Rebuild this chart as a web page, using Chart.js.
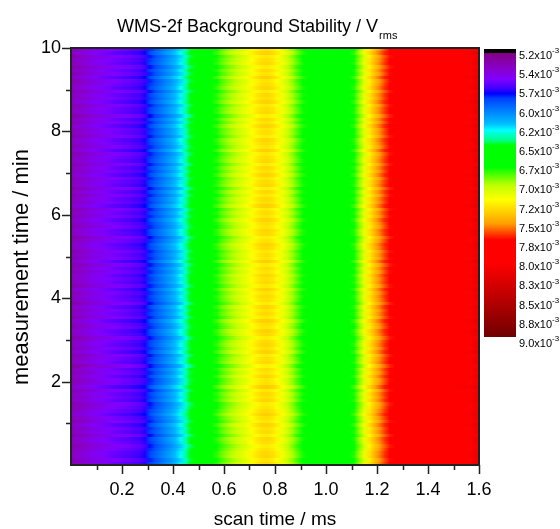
<!DOCTYPE html>
<html>
<head>
<meta charset="utf-8">
<title>WMS-2f Background Stability</title>
<script src="https://cdn.jsdelivr.net/npm/chart.js@4.4.1/dist/chart.umd.min.js"></script>
<style>
    body { margin: 0; background: #fff; }
    canvas { display: block; }
</style>
</head>
<body>
<canvas id="stability-chart" width="560" height="529"></canvas>
<script>

const FONT = '"Liberation Sans", Arial, Helvetica, sans-serif';

// mean 2f signal along one scan (x10^-3 V), one value per 0.02 ms bin
const scanProfile = [
    5.42, 5.45, 5.48, 5.51, 5.54, 5.56, 5.58, 5.60, 5.62, 5.63,
    5.65, 5.66, 5.68, 5.70, 5.74, 5.84, 5.91, 5.97, 6.03, 6.09,
    6.16, 6.24, 6.35, 6.47, 6.54, 6.58, 6.62, 6.67, 6.78, 6.86,
    6.92, 6.97, 7.02, 7.07, 7.13, 7.19, 7.25, 7.29, 7.30, 7.27,
    7.21, 7.13, 7.04, 6.95, 6.85, 6.76, 6.68, 6.62, 6.58, 6.56,
    6.55, 6.55, 6.57, 6.61, 6.67, 6.77, 6.93, 7.10, 7.26, 7.40,
    7.52, 7.63, 7.73, 7.82, 7.87, 7.90, 7.92, 7.93, 7.94, 7.95,
    7.95, 7.96, 7.96, 7.97, 7.97, 7.98, 7.99, 8.00, 8.04, 8.12
];
const scanStep = 0.02;     // ms per column
const scanEnd = 1.6;       // ms

// scan-to-scan background drift (x10^-3 V), one value per scan row, bottom to top
const rowDrift = [
     0.01, -0.02,  0.03,  0.02, -0.01, -0.04,  0.00,  0.02, -0.05,  0.01,
    -0.01,  0.04, -0.03,  0.00,  0.05,  0.01, -0.02, -0.04,  0.03,  0.00,
     0.02, -0.03,  0.06, -0.01, -0.02,  0.03, -0.02,  0.01, -0.06,  0.02,
     0.00, -0.04,  0.04, -0.01,  0.03,  0.01, -0.04,  0.02,  0.04, -0.02,
     0.00,  0.05, -0.03,  0.01, -0.01,  0.03, -0.05,  0.00,  0.02, -0.01,
     0.04, -0.03,  0.02,  0.00,  0.03, -0.02,  0.01, -0.04,  0.05, -0.02,
     0.00, -0.03,  0.02,  0.04, -0.01, -0.05,  0.02,  0.03, -0.02,  0.00,
     0.04, -0.02,  0.01, -0.03,  0.05,  0.00,  0.02, -0.03,  0.02, -0.05,
     0.03,  0.01, -0.02,  0.04, -0.01,  0.02, -0.04,  0.02,  0.00, -0.03,
     0.05, -0.02,  0.01,  0.03, -0.04,  0.00, -0.01,  0.04, -0.02,  0.02,
    -0.05,  0.02,  0.01, -0.03,  0.04,  0.00,  0.02, -0.04,  0.03,  0.00,
    -0.02,  0.05, -0.02,  0.01, -0.04,  0.02,  0.00, -0.03,  0.04, -0.01
];
const measureEnd = 10;     // min

// colour scale (x10^-3 V)
const colorbarLabels = ['5.2', '5.4', '5.7', '6.0', '6.2', '6.5', '6.7', '7.0',
                        '7.2', '7.5', '7.8', '8.0', '8.3', '8.5', '8.8', '9.0'];
const colorMin = 5.2;
const colorMax = 9.0;
const cmapValues = [5.20, 5.25, 5.25, 5.45, 5.60, 5.72, 5.79, 5.85, 6.19, 6.27,
                    6.41, 6.47, 6.76, 7.00, 7.19, 7.50, 7.72, 8.02, 9.00];
const cmapColors = ['#000000', '#000000', '#800080', '#8a00c8', '#8000ff', '#4000ff',
                    '#0000ff', '#0040ff', '#00c0ff', '#00ffff', '#00ff80', '#00ff00',
                    '#00ff00', '#c0ff00', '#ffff00', '#ffa000', '#ff0000', '#ff0000',
                    '#700000'];


function hexToRgb(hex) {
    const n = parseInt(hex.slice(1), 16);
    return [(n >> 16) & 255, (n >> 8) & 255, n & 255];
}

const cmapRgb = cmapColors.map(hexToRgb);

function colorFor(v) {
    if (v <= cmapValues[0]) return `rgb(${cmapRgb[0].join(',')})`;
    for (let i = 1; i < cmapValues.length; i++) {
        if (v <= cmapValues[i]) {
            const a = cmapValues[i - 1], b = cmapValues[i];
            const t = b > a ? (v - a) / (b - a) : 1;
            const c0 = cmapRgb[i - 1], c1 = cmapRgb[i];
            const rgb = c0.map((c, k) => Math.round(c + (c1[k] - c) * t));
            return `rgb(${rgb.join(',')})`;
        }
    }
    return `rgb(${cmapRgb[cmapRgb.length - 1].join(',')})`;
}


// one point per cell: centre of the bin plus its value
function buildCells() {
    const rowStep = measureEnd / rowDrift.length;
    const cells = [];
    rowDrift.forEach((drift, j) => {
        scanProfile.forEach((base, i) => {
            cells.push({
                x: (i + 0.5) * scanStep,
                y: (j + 0.5) * rowStep,
                v: base + drift,
                row: j
            });
        });
    });
    return cells;
}


// each scan row is filled with a gradient running through its bin centres
const heatmapPlugin = {
    id: 'heatmap',
    beforeDatasetsDraw(chart) {
        const { ctx, chartArea, scales } = chart;
        const { left, right, top, bottom } = chartArea;
        const rowStep = measureEnd / rowDrift.length;
        const cols = scanProfile.length;
        const data = chart.data.datasets[0].data;

        ctx.save();
        ctx.beginPath();
        ctx.rect(left, top, right - left, bottom - top);
        ctx.clip();
        for (let j = 0; j < rowDrift.length; j++) {
            const row = data.slice(j * cols, (j + 1) * cols);
            const y0 = Math.round(scales.y.getPixelForValue((j + 1) * rowStep));
            const y1 = Math.round(scales.y.getPixelForValue(j * rowStep));
            const grad = ctx.createLinearGradient(left, 0, right, 0);
            grad.addColorStop(0, colorFor(row[0].v));
            row.forEach(cell => {
                const off = (scales.x.getPixelForValue(cell.x) - left) / (right - left);
                grad.addColorStop(Math.min(1, Math.max(0, off)), colorFor(cell.v));
            });
            grad.addColorStop(1, colorFor(row[cols - 1].v));
            ctx.fillStyle = grad;
            ctx.fillRect(left, y0, right - left, y1 - y0);
        }
        ctx.restore();
    }
};


const decorPlugin = {
    id: 'decor',
    afterDraw(chart) {
        const { ctx, chartArea, scales } = chart;
        const { left, right, top, bottom } = chartArea;

        // frame
        ctx.save();
        ctx.strokeStyle = '#222';
        ctx.lineWidth = 2;
        ctx.strokeRect(left, top, right - left, bottom - top);

        // tick marks, long on labelled values
        ctx.lineWidth = 1.5;
        ctx.beginPath();
        scales.x.ticks.forEach(t => {
            const k = Math.round(t.value * 10);
            if (k === 0) return;
            const px = Math.round(scales.x.getPixelForValue(t.value)) + 0.5;
            const len = k % 2 === 0 ? 9 : 5;
            ctx.moveTo(px, bottom);
            ctx.lineTo(px, bottom + len);
        });
        scales.y.ticks.forEach(t => {
            const k = Math.round(t.value);
            if (k === 0) return;
            const py = Math.round(scales.y.getPixelForValue(t.value)) + 0.5;
            const len = k % 2 === 0 ? 9 : 5;
            ctx.moveTo(left, py);
            ctx.lineTo(left - len, py);
        });
        ctx.stroke();

        ctx.fillStyle = '#000';

        // title with subscript
        ctx.font = `18px ${FONT}`;
        ctx.textAlign = 'left';
        ctx.textBaseline = 'alphabetic';
        const titleMain = 'WMS-2f Background Stability / V';
        ctx.fillText(titleMain, 117, 32);
        const tw = ctx.measureText(titleMain).width;
        ctx.font = `11px ${FONT}`;
        ctx.fillText('rms', 117 + tw + 1, 39);

        // axis titles
        ctx.font = `19px ${FONT}`;
        ctx.textAlign = 'center';
        ctx.fillText('scan time / ms', (left + right) / 2, 525);
        ctx.save();
        ctx.translate(28, 267);
        ctx.rotate(-Math.PI / 2);
        ctx.font = `22px ${FONT}`;
        ctx.fillText('measurement time / min', 0, 0);
        ctx.restore();

        // colour bar
        const barX = 484, barW = 32, barTop = 49, barH = 288;
        for (let py = 0; py < barH; py++) {
            const v = colorMin + (py + 0.5) / barH * (colorMax - colorMin);
            ctx.fillStyle = colorFor(v);
            ctx.fillRect(barX, barTop + py, barW, 1);
        }
        ctx.fillStyle = '#000';
        ctx.textAlign = 'left';
        ctx.textBaseline = 'middle';
        colorbarLabels.forEach((label, k) => {
            const ly = barTop + k * barH / (colorbarLabels.length - 1) + 7;
            ctx.font = `11px ${FONT}`;
            const main = label + 'x10';
            ctx.fillText(main, 519, ly);
            const mw = ctx.measureText(main).width;
            ctx.font = `8px ${FONT}`;
            ctx.fillText('-3', 519 + mw, ly - 5);
        });
        ctx.restore();
    }
};


document.addEventListener('DOMContentLoaded', () => {
    const ctx = document.getElementById('stability-chart').getContext('2d');

    new Chart(ctx, {
        type: 'scatter',
        data: {
            datasets: [{
                data: buildCells(),
                pointRadius: 0,
                pointHoverRadius: 0
            }]
        },
        options: {
            responsive: false,
            animation: false,
            events: [],
            layout: { padding: { top: 48, right: 81, left: 0, bottom: 0 } },
            plugins: {
                legend: { display: false },
                tooltip: { enabled: false }
            },
            scales: {
                x: {
                    type: 'linear',
                    min: 0,
                    max: scanEnd,
                    afterFit(scale) { scale.height = 64; },
                    border: { display: false },
                    grid: { drawOnChartArea: false, tickLength: 9, tickColor: 'rgba(0,0,0,0)' },
                    ticks: {
                        stepSize: 0.1,
                        autoSkip: false,
                        maxRotation: 0,
                        padding: 5,
                        color: '#000',
                        font: { family: FONT, size: 18 },
                        callback: v => {
                            const k = Math.round(v * 10);
                            return k > 0 && k % 2 === 0 ? (k / 10).toFixed(1) : '';
                        }
                    }
                },
                y: {
                    type: 'linear',
                    min: 0,
                    max: measureEnd,
                    afterFit(scale) { scale.width = 71; },
                    border: { display: false },
                    grid: { drawOnChartArea: false, tickLength: 9, tickColor: 'rgba(0,0,0,0)' },
                    ticks: {
                        stepSize: 1,
                        autoSkip: false,
                        padding: 1,
                        color: '#000',
                        font: { family: FONT, size: 18 },
                        callback: v => {
                            const k = Math.round(v);
                            return k > 0 && k % 2 === 0 ? String(k) : '';
                        }
                    }
                }
            }
        },
        plugins: [heatmapPlugin, decorPlugin]
    });
});
</script>
</body>
</html>
